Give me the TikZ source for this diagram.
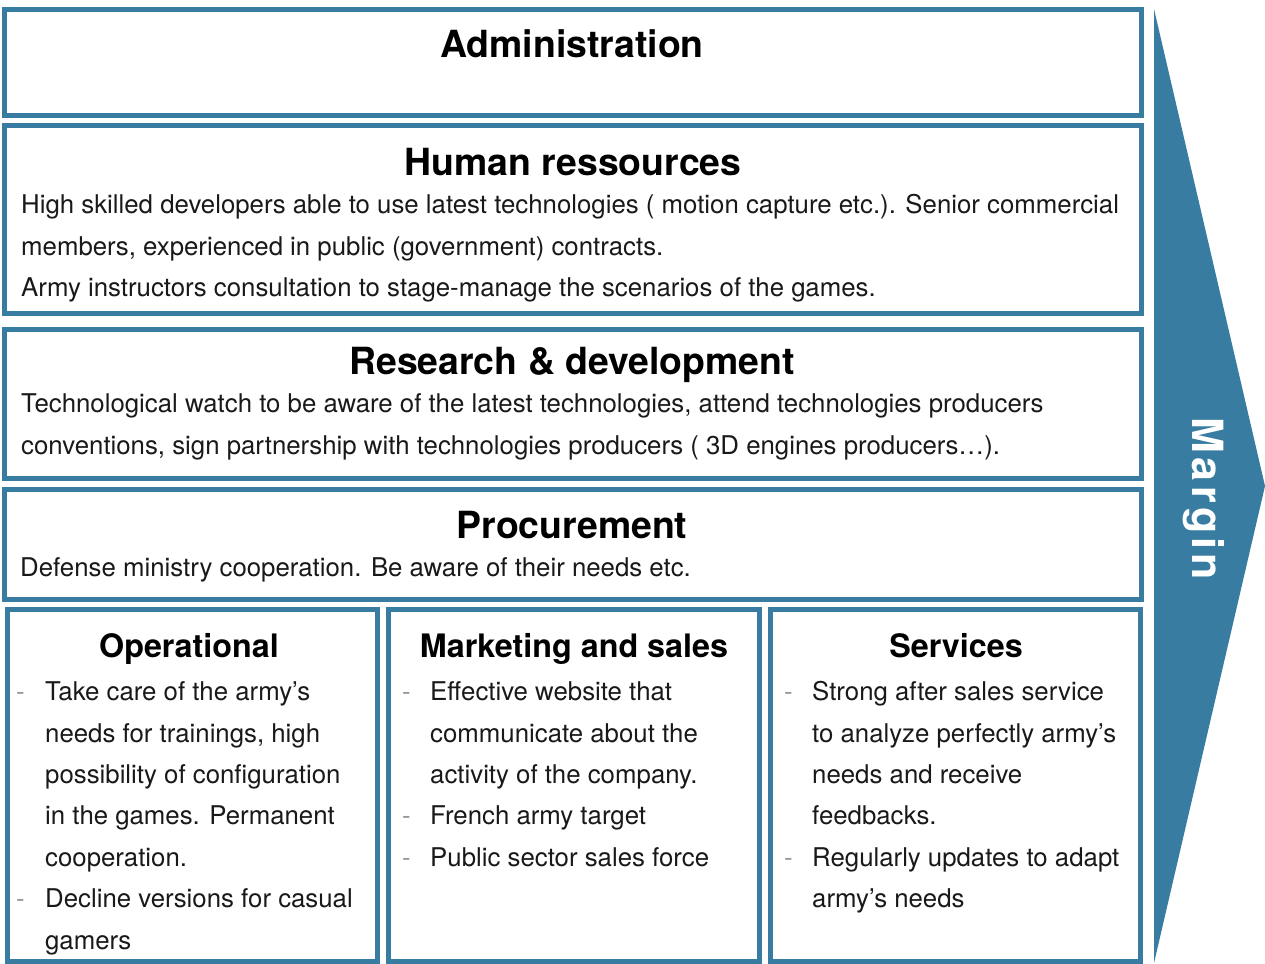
\documentclass[tikz,border=0pt]{standalone}
\usepackage{fontspec}
\setmainfont{TeX Gyre Heros}
\definecolor{frame}{RGB}{56,125,161}
\definecolor{dashgray}{RGB}{150,150,150}
\definecolor{ink}{RGB}{25,25,25}
\begin{document}
\begin{tikzpicture}[x=1pt,y=-1pt,
  panel/.style={draw=frame,line width=5pt,fill=white},
  heading/.style={anchor=base,font=\fontsize{37.4}{37.4}\selectfont\bfseries,text=black,inner sep=0pt},
  subheading/.style={anchor=base,font=\fontsize{32.3}{32.3}\selectfont\bfseries,text=black,inner sep=0pt},
  body/.style={anchor=base west,font=\fontsize{25.8}{25.8}\selectfont,text=ink,inner sep=0pt},
  bullet/.style={anchor=base west,font=\fontsize{25.8}{25.8}\selectfont,text=dashgray,inner sep=0pt}]
\useasboundingbox (0,0) rectangle (1265,963);

% value-chain arrow on the right
\fill[frame] (1154,9) coordinate (arrTop) -- (1265,486) coordinate (arrTip) -- (1154,963) coordinate (arrBot) -- cycle;
\node[rotate=-90,text=white,font=\fontsize{43}{43}\selectfont\bfseries\addfontfeatures{LetterSpace=10}] (margin) at (1204,499) {Margin};

% support activities
\draw[panel] (4.5,9.5) rectangle (1141.5,115.5);
\draw[panel] (4.5,125.5) rectangle (1141.5,313.5);
\draw[panel] (4.5,329.5) rectangle (1141.5,478.5);
\draw[panel] (4.5,489.5) rectangle (1141.5,599.5);

\node[heading] (adm) at (572,58) {Administration};

\node[heading] (hr) at (573,175) {Human ressources};
\node[body] (hr1) at (21,213) {High skilled developers able to use latest technologies ( motion capture etc.). Senior commercial};
\node[body] (hr2) at (21,255) {members, experienced in public (government) contracts.};
\node[body] (hr3) at (21,296) {Army instructors consultation to stage-manage the scenarios of the games.};

\node[heading] (rd) at (572,374) {Research \& development};
\node[body] (rd1) at (21,412) {Technological watch to be aware of the latest technologies, attend technologies producers};
\node[body] (rd2) at (21,454) {conventions, sign partnership with technologies producers ( 3D engines producers\ldots).};

\node[heading] (proc) at (572,538) {Procurement};
\node[body] (proc1) at (20,576) {Defense ministry cooperation. Be aware of their needs etc.};

% primary activities
\draw[panel] (7.5,609.5) rectangle (377.5,961);
\draw[panel] (388.5,609.5) rectangle (759.5,961);
\draw[panel] (770.5,609.5) rectangle (1140.5,961);

\node[subheading] (op) at (189,657) {Operational};
\node[bullet] (opd1) at (16,700) {-};
\node[body] (op1) at (45,700) {Take care of the army’s};
\node[body] (op2) at (45,742) {needs for trainings, high};
\node[body] (op3) at (45,783) {possibility of configuration};
\node[body] (op4) at (45,824) {in the games. Permanent};
\node[body] (op5) at (45,866) {cooperation.};
\node[bullet] (opd2) at (16,907) {-};
\node[body] (op6) at (45,907) {Decline versions for casual};
\node[body] (op7) at (45,949) {gamers};

\node[subheading] (mk) at (574,657) {Marketing and sales};
\node[bullet] (mkd1) at (402,700) {-};
\node[body] (mk1) at (430,700) {Effective website that};
\node[body] (mk2) at (430,742) {communicate about the};
\node[body] (mk3) at (430,783) {activity of the company.};
\node[bullet] (mkd2) at (402,824) {-};
\node[body] (mk4) at (430,824) {French army target};
\node[bullet] (mkd3) at (402,866) {-};
\node[body] (mk5) at (430,866) {Public sector sales force};

\node[subheading] (sv) at (956,657) {Services};
\node[bullet] (svd1) at (784,700) {-};
\node[body] (sv1) at (812,700) {Strong after sales service};
\node[body] (sv2) at (812,742) {to analyze perfectly army’s};
\node[body] (sv3) at (812,783) {needs and receive};
\node[body] (sv4) at (812,824) {feedbacks.};
\node[bullet] (svd2) at (784,866) {-};
\node[body] (sv5) at (812,866) {Regularly updates to adapt};
\node[body] (sv6) at (812,907) {army’s needs};
\end{tikzpicture}
\end{document}
